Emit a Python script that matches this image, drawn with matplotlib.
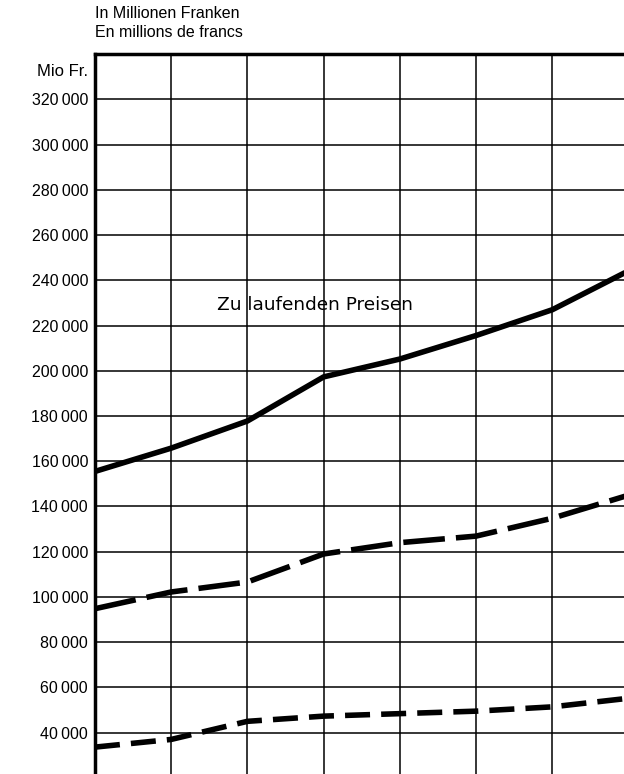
import matplotlib.pyplot as plt
from matplotlib.ticker import FixedLocator

# === Data ===
x_pos = [0, 1, 2, 3, 4, 5, 6, 7]
laufende_preise = [155500, 165800, 177800, 197300, 205200, 215600, 227000, 244200]
reihe_lang = [94800, 102200, 106600, 119000, 124000, 126900, 134800, 145000]
reihe_kurz = [33600, 37000, 45000, 47300, 48400, 49500, 51400, 55200]
y_ticks = list(range(40000, 340000, 20000))
y_labels = [f"{v // 1000}\u2009000" for v in y_ticks]

plt.rcParams["font.family"] = ["Liberation Sans", "DejaVu Sans"]

fig = plt.figure(figsize=(6.24, 7.74), dpi=100)
ax = fig.add_axes([0.1522, -0.005, 0.855, 0.935])

# grid
ax.set_xlim(0, 7)
ax.set_ylim(20000, 340000)
ax.xaxis.set_major_locator(FixedLocator(x_pos))
ax.yaxis.set_major_locator(FixedLocator(y_ticks))
ax.grid(True, color="black", linewidth=1.1)
ax.set_axisbelow(True)

# series
ax.plot(x_pos, laufende_preise, color="black", linewidth=4.0,
        solid_capstyle="butt")
ax.plot(x_pos, reihe_lang, color="black", linewidth=4.0,
        dashes=(7.5, 2.0), dash_capstyle="butt")
ax.plot(x_pos, reihe_kurz, color="black", linewidth=4.0,
        dashes=(4.5, 2.0), dash_capstyle="butt")

ax.text(1.6, 229300, "Zu laufenden Preisen", fontsize=13.3,
        family=["DejaVu Sans"], ha="left", va="center")

# axes styling
for side in ["right", "bottom"]:
    ax.spines[side].set_visible(False)
ax.spines["left"].set_linewidth(2.5)
ax.spines["top"].set_linewidth(2.5)
ax.tick_params(axis="both", length=0)
ax.tick_params(axis="y", pad=5, labelsize=11.5)
ax.set_xticklabels([])
ax.set_yticklabels(y_labels)

# header texts
fig.text(0.1522, 0.982, "In Millionen Franken", fontsize=11.5, ha="left", va="center")
fig.text(0.1522, 0.958, "En millions de francs", fontsize=11.5, ha="left", va="center")
fig.text(0.141, 0.907, "Mio Fr.", fontsize=12, ha="right", va="center")

plt.savefig("out.png", dpi=100)
